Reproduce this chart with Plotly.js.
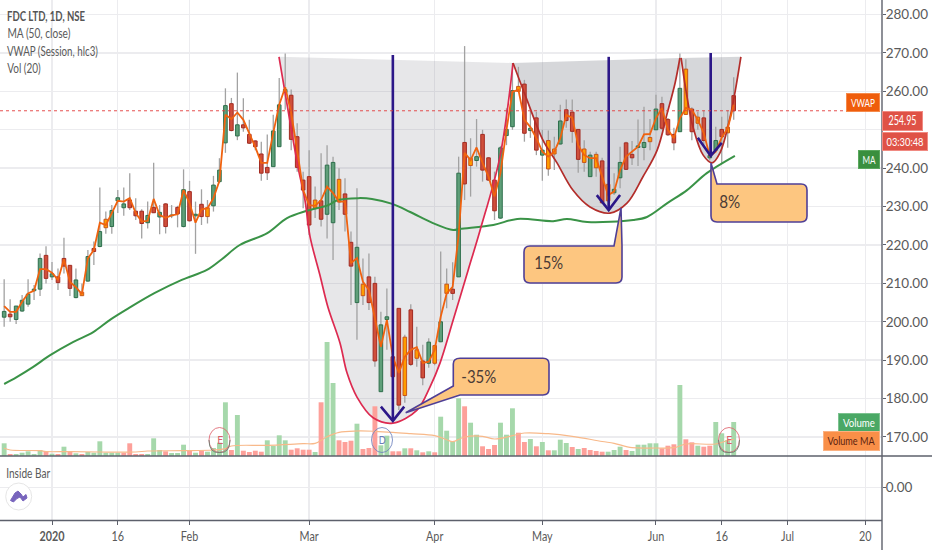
<!DOCTYPE html>
<html><head><meta charset="utf-8">
<script src="https://cdn.plot.ly/plotly-3.0.1.min.js"></script>
<style>html,body{margin:0;padding:0;background:#fff}#c{width:932px;height:550px}</style></head>
<body><div id="c"></div>
<script>
// ----- price candles (one entry per trading day) -----
const high = [211.1,205.9,204.1,207.0,211.1,209.6,217.8,219.7,215.6,213.9,221.9,214.8,213.9,210.0,218.7,220.9,235.0,228.7,230.4,234.3,
235.0,238.7,232.2,229.3,231.3,241.4,230.4,230.9,230.4,230.2,239.7,236.7,231.3,234.5,231.7,238.0,242.6,260.8,258.3,264.9,
258.2,252.6,247.3,246.9,248.8,253.9,263.5,269.9,260.5,251.7,239.1,244.7,235.2,243.9,246.0,243.0,240.0,237.4,223.5,234.8,
216.5,217.8,211.7,202.6,208.7,197.1,203.6,196.6,204.6,198.7,194.0,195.7,194.0,218.3,213.9,215.5,243.0,271.8,247.8,252.8,
250.0,242.9,239.1,245.8,255.6,267.4,266.4,263.0,255.7,254.7,250.0,249.8,248.2,256.5,257.9,257.9,250.2,247.3,244.3,244.3,
242.7,240.4,238.7,245.6,246.9,247.1,252.7,256.0,252.8,259.1,258.6,253.1,250.5,269.9,268.4,255.9,254.7,255.0,252.6,250.8,
253.4,255.0,263.7];
const low = [198.7,200.0,199.4,202.6,203.9,205.7,206.7,210.0,210.9,208.3,212.6,206.7,206.1,206.7,210.4,214.8,219.4,222.9,222.9,228.3,
227.6,229.1,226.5,221.7,224.3,228.3,222.8,223.0,227.0,224.6,224.6,226.1,217.7,225.2,225.6,228.7,236.1,244.0,249.6,247.3,
249.5,246.3,244.7,236.7,236.9,240.3,245.5,255.2,244.7,239.1,229.6,222.6,227.0,224.8,221.7,216.1,229.1,223.5,204.4,195.3,
204.4,203.1,188.3,181.7,192.7,180.9,177.0,178.9,188.5,188.3,183.5,188.0,188.7,194.7,203.5,205.7,211.7,231.7,232.6,240.4,
236.5,236.7,226.5,226.8,246.0,250.0,259.8,246.9,247.9,243.4,236.7,238.0,239.5,246.2,250.5,246.6,238.8,239.1,237.7,237.8,
230.7,229.9,233.0,234.8,239.5,240.8,240.6,242.1,244.7,250.0,250.0,248.4,244.7,249.4,253.9,247.3,250.0,246.0,242.1,244.5,
241.3,245.3,252.6];
const bodyHi = [202.7,202.0,204.1,205.6,207.2,208.5,216.5,217.3,212.5,211.7,216.5,214.7,210.9,207.7,217.0,219.1,223.5,226.7,229.0,232.3,
230.7,231.7,228.8,228.8,227.7,229.8,228.5,230.7,227.8,229.8,234.4,233.9,228.0,230.6,229.7,235.6,239.5,256.3,256.8,251.3,
251.3,248.8,247.1,243.7,240.2,249.7,256.5,260.5,259.0,248.2,236.9,237.8,231.7,231.5,240.8,241.5,237.1,233.3,220.7,219.4,
209.8,211.7,210.0,199.2,201.3,190.9,203.5,196.0,203.1,192.7,189.8,194.7,193.8,200.0,209.8,208.5,238.7,246.7,242.6,243.0,
248.8,242.7,236.9,245.3,250.1,260.2,261.3,261.9,250.4,253.1,244.7,247.2,245.0,252.3,255.2,254.6,250.1,245.0,243.4,243.6,
241.9,235.8,234.5,241.5,246.6,243.6,245.8,246.7,248.0,255.4,256.8,252.7,248.8,260.8,265.8,255.4,253.3,253.1,243.3,247.2,
250.1,250.7,258.9];
const bodyLo = [201.2,201.3,200.6,202.8,204.6,208.1,208.5,211.3,211.7,210.2,214.5,208.7,206.3,206.8,210.6,218.3,219.6,224.5,224.8,231.5,
229.7,229.7,227.6,225.6,225.8,228.4,227.3,224.8,227.6,228.1,224.8,226.3,227.6,227.4,227.4,230.2,236.5,246.6,249.8,248.4,
250.5,246.5,245.6,238.7,238.8,240.4,245.6,259.7,247.5,240.2,234.3,225.2,229.6,226.7,228.0,225.8,231.2,228.0,214.5,205.0,
206.8,205.0,189.8,181.8,200.6,185.7,178.3,180.8,188.9,190.5,185.4,189.2,189.2,194.8,207.4,207.4,211.7,235.9,240.7,242.0,
239.5,236.9,228.9,227.0,248.5,250.8,260.0,249.1,249.8,244.7,243.4,239.8,243.7,246.3,252.4,249.6,242.3,241.5,237.8,240.1,
231.0,231.5,233.6,237.5,239.7,242.7,245.4,245.4,246.9,250.0,250.4,248.7,246.6,249.5,254.0,249.5,251.7,247.2,242.7,244.7,
248.2,249.2,254.95];
const candleKind = ("grgggggrgr"+"rrgogrgogg"+"grrrgrgrgr"+"grgrogggrg"+"rrrrrgggrr"+"rrorggorrg"+"orrggrroro"+"rgogorgrog"+"rrrgggorgr"+"googrrrogo"+"roggrrggog"+"rrrgororgg"+"ror").split("");
const vwap = [204.1,202.6,202.6,205.2,207.4,208.1,213.7,213.7,212.8,210.9,216.3,210.4,209.0,207.2,216.5,218.7,225.8,225.2,228.3,231.5,
231.3,232.2,228.3,226.1,226.3,232.0,227.8,227.1,227.7,228.0,234.3,230.9,225.8,229.3,229.6,232.2,236.7,253.9,252.8,254.5,
252.6,249.2,245.5,241.4,241.4,249.2,256.5,261.1,254.4,244.7,234.3,230.4,230.2,231.7,235.2,233.5,231.3,231.3,215.3,216.6,
210.4,208.3,200.5,193.5,200.5,190.9,186.7,190.9,192.7,193.4,189.3,189.6,192.7,201.3,207.4,209.1,222.6,244.0,242.1,245.4,
241.4,237.8,232.6,238.8,250.0,259.9,260.4,252.6,250.7,247.8,244.3,243.0,244.3,247.8,253.9,253.1,246.0,243.4,242.6,242.6,
237.8,233.0,233.9,239.5,243.0,244.3,245.6,248.8,248.9,253.0,255.7,250.0,247.8,253.0,255.7,255.2,252.6,249.1,243.2,244.3,
248.0,250.4,256.5];
// ----- volume -----
const volume = [12.7,2,2,3.3,4.7,2,6,4.7,2.3,2,9.3,4.3,2.7,2,4,3.3,14.7,3.3,3.3,3.3,3.3,12.7,2,2,2,17.7,6,4.7,3,3,11.3,5.3,3.3,5.3,4.3,8,13.3,53.7,6,41,
5.3,4,5.3,4.3,15.7,10,20.7,15.7,6.3,7.7,6.3,6.3,4,53.7,114,73,15.7,14,15.3,32.3,7,8,49.7,10.7,20.3,4.7,4.7,7.7,7.7,5.7,3.7,4.7,3.7,39.3,25.3,14.7,57.7,49.7,33.3,21.3,
9.7,7,11,33.3,21.3,47.7,23.3,14,17,9.7,14,5.7,5.7,16.3,13,9,7,8,6,5,4.3,4.3,6,9.3,6,5,11.3,11.3,12.7,12.7,7.7,10.3,11.7,71,16.7,13.7,10.3,9.3,10.3,34,22.7,16,34];
const volumeKind = ("grgggggrgr"+"grgrgggggg"+"rrrrgggrgg"+"grgrggggrg"+"rrrrggggrr"+"rrgrggrrrg"+"rrrggrrgrg"+"rgrggggrgg"+"rrrgggrrgr"+"grgggrgrrr"+"rgggrggggg"+"rrrgrrgrrg"+"ggg").split("");
const volMaDays = [0,1,6,7,11,16,22,24,30,35,37,38,44,50,52,54,56,59,62,65,68,72,74,75,77,80,82,85,87,91,95,100,102,105,109,112,114,119,121,122];
const volMa = [7.7,6,5.3,4.4,4.4,4,4,5,5.3,6,7.3,10,10.7,12.3,12.7,19.3,23.7,25,24.7,23.7,22.3,20.3,16.3,14.3,19,19.7,17,20.3,23,22.3,19.7,14.5,12.7,8.3,8,8.3,12,12,15.5,16.7];
// ----- MA(50) -----
const maDays = [0,2.1,4.8,7.7,11.5,14.9,17.7,21.1,25.2,29.7,33.9,36.4,39.4,44,47.3,50.6,54.2,55.8,59.2,61.5,64.9,67.9,71.7,75.1,76.2,81.8,85.8,91.8,94.1,97.5,105.2,107.5,110.9,114.2,117.5,122.2];
const ma = [183.8,185.6,188.2,191.3,194.7,197.3,200.5,203.8,207.5,210.9,213.5,216.3,220.0,223.1,227.0,228.9,230.4,231.7,232.2,232.0,230.7,228.6,225.7,223.9,224.2,225.2,226.8,226.2,226.8,226.0,226.5,227.3,230.9,234.3,238.7,243.2];
// ----- cup drawings -----
const cup1X = [45.96,47.46,49.14,50.3,51.15,52.8,54.15,56.16,57.33,59.0,61.7,65.0,69.04,71.2,72.9,75.1,77.6,79.6,82.9,85.1];
const cup1Y = [269.0,255.2,240.3,231.7,222.2,212.2,203.8,194.5,186.7,180.4,175.0,173.6,177.0,183.0,189.3,200.5,213.5,223.9,242.9,267.4];
const cup2X = [85.1,87.43,90.1,92.45,95.1,97.97,101.3,104.15,106.8,109.2,110.9,112.2,113.0];
const cup2Y = [267.4,257.8,247.3,241.4,234.3,229.9,228.3,230.9,237.7,244.7,254.4,262.2,268.7];
const cup3X = [113.2,114.2,115.2,116.9,118.4,119.7,121.4,123.2];
const cup3Y = [268.7,258.5,250.7,243.4,241.4,244.0,253.3,269.0];
const arrowX = [65,65,null,63,65,66.9,null,101.1,101.1,null,99.1,101.1,103,null,118.15,118.15,null,116,118.15,120];
const arrowY = [269.5,174.2,null,177.9,174.2,177.9,null,269,229.1,null,233,229.1,233,null,270,243.2,null,247.9,243.2,246.6];
// ----- axes -----
const priceTicks = [170,180,190,200,210,220,230,240,250,260,270,280];
const coveredPriceTick = 250; // hidden behind the price tags in the picture
const dateTicks = [8,19,31,51,72,90,109,120,131,144];
const dateLabels = ["<b>2020</b>","16","Feb","Mar","Apr","May","Jun","16","Jul","20"];
const lastPrice = 254.95;

const FONT = 'Lato,"Noto Sans",sans-serif';
const W = 882, H = 520;
const days = high.map((_, i) => i);
const fx = x => x / W, fy = y => 1 - y / H;
const pt = (x, y) => fx(x) + " " + fy(y);

// ----- traces -----
const wickX = [], wickY = [];
days.forEach(i => { wickX.push(i, i, null); wickY.push(high[i], low[i], null); });
const bodyFill = {g:"#5f9f79", r:"#cf4f3b", o:"#ff9c00"};
const bodyLine = {g:"#2e6f4c", r:"#a32b22", o:"#c8551b"};
const cupFill = (x, y, fill) => ({type:"scatter", mode:"lines", x, y, yaxis:"y", xaxis:"x",
  fill:"toself", fillcolor:fill, line:{color:"rgba(0,0,0,0)", width:0, shape:"spline", smoothing:1}, hoverinfo:"skip"});
const cupLine = (x, y, color) => ({type:"scatter", mode:"lines", x, y, yaxis:"y4",
  line:{color, width:1.7, shape:"spline", smoothing:1}, hoverinfo:"skip"});

const traces = [
  cupFill(cup1X, cup1Y, "rgba(120,123,134,0.18)"),
  cupFill(cup2X, cup2Y, "rgba(120,123,134,0.30)"),
  cupFill(cup3X, cup3Y, "rgba(120,123,134,0.30)"),
  {type:"scatter", mode:"lines", x:wickX, y:wickY, yaxis:"y", line:{color:"#a2a2a2", width:1.3}, hoverinfo:"skip"},
  {type:"scatter", mode:"lines", x:[0], y:[0], yaxis:"y2", line:{color:"rgba(0,0,0,0)"}, hoverinfo:"skip"},
  {type:"bar", x:days, y:volume, yaxis:"y3", width:0.82,
    marker:{color:volumeKind.map(k => k === "g" ? "#a6d8ab" : "#fda09a"), line:{width:0}}, hoverinfo:"skip"},
  {type:"scatter", mode:"lines", x:volMaDays, y:volMa, yaxis:"y3", line:{color:"#f8b98a", width:1.2, shape:"spline"}, hoverinfo:"skip"},
  {type:"bar", x:days, y:bodyHi.map((v, i) => v - bodyLo[i]), base:bodyLo, yaxis:"y4", width:0.6,
    marker:{color:candleKind.map(k => bodyFill[k]), line:{color:candleKind.map(k => bodyLine[k]), width:1}}, hoverinfo:"skip"},
  {type:"scatter", mode:"lines", x:maDays, y:ma, yaxis:"y4", line:{color:"#3a9347", width:2, shape:"spline", smoothing:1}, hoverinfo:"skip"},
  cupLine(cup1X, cup1Y, "#dd2a50"),
  cupLine(cup2X, cup2Y, "#b32d2a"),
  cupLine(cup3X, cup3Y, "#b32d2a"),
  {type:"scatter", mode:"lines", x:days, y:vwap, yaxis:"y4", line:{color:"#f0620f", width:1.8}, hoverinfo:"skip"},
  {type:"scatter", mode:"lines", x:arrowX, y:arrowY, yaxis:"y4", line:{color:"#2c1788", width:2.6}, hoverinfo:"skip"}
];

// ----- decorations -----
const calloutStyle = {type:"path", xref:"paper", yref:"paper", fillcolor:"#fdc680", line:{color:"#4f3f96", width:1.6}, layer:"above"};
const callout = d => Object.assign({}, calloutStyle, {path:d});
const c1 = "M " + pt(460,358.3) + " L " + pt(543,358.3) + " Q " + pt(549,358.3) + " " + pt(549,364) + " L " + pt(549,389) +
  " Q " + pt(549,395) + " " + pt(543,395) + " L " + pt(460,395) + " L " + pt(405.7,412.7) + " L " + pt(453.3,386) + " L " + pt(453.3,364) +
  " Q " + pt(453.3,358.3) + " " + pt(460,358.3) + " Z";
const c2 = "M " + pt(530,246) + " L " + pt(614,246) + " L " + pt(621,208) + " L " + pt(622,246) + " L " + pt(622,277) +
  " Q " + pt(622,283) + " " + pt(616,283) + " L " + pt(530,283) + " Q " + pt(524,283) + " " + pt(524,277) + " L " + pt(524,252) +
  " Q " + pt(524,246) + " " + pt(530,246) + " Z";
const c3 = "M " + pt(711,163) + " L " + pt(717,184) + " L " + pt(801,184) + " Q " + pt(807,184) + " " + pt(807,190) + " L " + pt(807,216) +
  " Q " + pt(807,222) + " " + pt(801,222) + " L " + pt(717,222) + " Q " + pt(711,222) + " " + pt(711,216) + " Z";
const circle = (cx, cy, r, color) => ({type:"circle", xref:"paper", yref:"paper", x0:fx(cx-r), x1:fx(cx+r), y0:fy(cy+r+2), y1:fy(cy-r-2),
  line:{color, width:1}, fillcolor:"rgba(0,0,0,0)", layer:"above"});
const lowerArc = (cx, cy, r, color) => ({type:"path", xref:"paper", yref:"paper",
  path:"M " + pt(cx-r,cy) + " Q " + pt(cx-r,cy+r+3) + " " + pt(cx,cy+r+2) + " Q " + pt(cx+r,cy+r+3) + " " + pt(cx+r,cy),
  line:{color, width:1}, fillcolor:"rgba(0,0,0,0)", layer:"above"});
const icon = "M " + pt(10.5,500.5) + " L " + pt(15,493) + " L " + pt(18,491) + " L " + pt(21,494) + " L " + pt(23,497) + " L " + pt(26,494.5) +
  " L " + pt(27,498) + " L " + pt(23,501) + " L " + pt(20,497) + " L " + pt(17,498.5) + " L " + pt(13.5,502) + " Z";

const shapes = [
  {type:"line", xref:"paper", yref:"y", x0:0, x1:1, y0:lastPrice, y1:lastPrice, line:{color:"rgba(226,60,60,0.9)", width:1, dash:"dot"}, layer:"above"},
  {type:"line", xref:"paper", yref:"paper", x0:0, x1:932/W, y0:fy(456), y1:fy(456), line:{color:"#5d606b", width:1.4}, layer:"above"},
  {type:"line", xref:"paper", yref:"paper", x0:0, x1:1, y0:fy(520.5), y1:fy(520.5), line:{color:"#5d606b", width:1.4}, layer:"above"},
  {type:"line", xref:"paper", yref:"paper", x0:1, x1:1, y0:fy(0), y1:fy(550), line:{color:"#5d606b", width:1.4}, layer:"above"},
  callout(c1), callout(c2), callout(c3),
  circle(219.5,440,10.5,"rgba(222,100,110,0.85)"),
  lowerArc(219.5,440,10.5,"rgba(110,125,115,0.9)"),
  circle(382,440,10.5,"rgba(110,130,190,0.85)"),
  circle(729,440,10.5,"rgba(222,100,110,0.85)"),
  lowerArc(729,440,10.5,"rgba(110,125,115,0.9)"),
  {type:"circle", xref:"paper", yref:"paper", x0:fx(5.7), x1:fx(31.7), y0:fy(510), y1:fy(483), line:{color:"#e6e6e6", width:1}, fillcolor:"#fff", layer:"above"},
  {type:"path", xref:"paper", yref:"paper", path:icon, fillcolor:"#7865bd", line:{color:"#7865bd", width:1}, layer:"above"}
];

// cx = centre of the text, w = its width in the picture (glyphs are narrowed to that width after drawing)
const squeeze = {};
const lab = (text, cx, y, w, size, color, weight) => { squeeze[text] = w; return {text, x:fx(cx), y:fy(y), xref:"paper", yref:"paper", showarrow:false,
  xanchor:"center", yanchor:"middle", font:{family:FONT, size:size||12.5, color:color||"#5a5a5a", weight:weight||400}}; };
const tag = (text, x0, x1, y0, y1, w, bg, color, border, size) => { squeeze[text] = w; return {text, xref:"paper", yref:"paper", showarrow:false,
  x:fx((x0+x1)/2), y:fy((y0+y1)/2), xanchor:"center", yanchor:"middle", width:x1-x0-2, height:y1-y0-2, align:"center", valign:"middle",
  bgcolor:bg, bordercolor:border, borderwidth:1, borderpad:0, font:{family:FONT, size:size||12.5, color}}; };

const annotations = [
  lab("FDC LTD, 1D, NSE", 46, 17, 78, 12.5, "#555", 700),
  lab("MA (50, close)", 38.5, 34, 63),
  lab("VWAP (Session, hlc3)", 52.5, 52, 91),
  lab("Vol (20)", 23.5, 69, 33.5),
  lab("Inside Bar", 29, 473, 44),
  lab("-35%", 479, 376, 35, 17, "#4b3b36"),
  lab("15%", 548.5, 262, 29, 17, "#4b3b36"),
  lab("8%", 729.5, 202, 21, 17, "#4b3b36"),
  lab("E", 219.5, 439, 6, 11, "#d8606a"),
  lab("D", 382, 439, 7, 11, "#6b7fb8"),
  tag("VWAP", 846, 880, 93, 112, 24, "#ef5d0c", "#fff", "#f58a4b", 11.5),
  tag("254.95", 882, 923, 111.5, 131, 28, "#df5246", "#fff", "#f08a82", 12.5),
  tag("03:30:48", 882, 928, 132, 151, 37, "#df5246", "#fff", "#f08a82", 11),
  tag("MA", 858, 880, 150, 169, 13, "#398f3e", "#fff", "#5aa85e", 11.5),
  tag("Volume", 838, 880, 413, 432, 32, "#4aa865", "#fff", "#7cc28f", 11),
  tag("Volume MA", 823, 880, 431.5, 451, 47, "#f98f48", "#5b1f10", "#fbb181", 10.5)
];
annotations.push(Object.assign({}, annotations[8], {x:fx(729)}));

const axisFont = {family:FONT, size:13.5, color:"#5a5a5a"};
const hidden = {visible:false, overlaying:"y", side:"right", domain:[1-456/H, 1], fixedrange:true, showgrid:false};
const layout = {
  width:932, height:550, margin:{l:0, r:50, t:0, b:30, pad:0},
  paper_bgcolor:"#fff", plot_bgcolor:"#fff", showlegend:false, barmode:"overlay", hovermode:false,
  font:{family:FONT, size:12.5, color:"#5a5a5a"},
  xaxis:{range:[-0.696,146.8], anchor:"y2", tickmode:"array", tickvals:dateTicks, ticktext:dateLabels, ticks:"outside", ticklen:4, tickcolor:"#5d606b",
    showgrid:true, gridcolor:"#ececef", gridwidth:1.4, zeroline:false, showline:false, tickfont:axisFont, fixedrange:true},
  yaxis:{domain:[1-456/H,1], range:[165.05,283.8], side:"right", anchor:"x", tickmode:"array", tickvals:priceTicks,
    ticktext:priceTicks.map(v => v === coveredPriceTick ? "" : v.toFixed(2)), ticklabelstandoff:-3,
    ticks:"outside", ticklen:3, tickcolor:"#5d606b", showgrid:true, gridcolor:"#ececef", gridwidth:1.4, zeroline:false, showline:false,
    tickfont:axisFont, fixedrange:true},
  yaxis2:{domain:[0,1-456/H], range:[-1.02,0.98], side:"right", anchor:"x", tickmode:"array", tickvals:[0], tickformat:".2f", ticklabelstandoff:-3,
    ticks:"outside", ticklen:3, tickcolor:"#5d606b", showgrid:true, gridcolor:"#ececef", gridwidth:1.4, zeroline:false, showline:false,
    tickfont:axisFont, fixedrange:true},
  yaxis3:Object.assign({}, hidden, {range:[0,456]}),
  yaxis4:Object.assign({}, hidden, {range:[165.05,283.8]}),
  shapes, annotations
};
Plotly.newPlot("c", traces, layout, {displayModeBar:false, staticPlot:true}).then(gd => {
  gd.querySelectorAll(".annotation-text").forEach(t => {
    const w = squeeze[t.textContent];
    if (w) { t.setAttribute("textLength", w); t.setAttribute("lengthAdjust", "spacingAndGlyphs"); }
  });
  gd.querySelectorAll(".xtick text").forEach(t => {
    const el = t.querySelector("tspan") || t;
    const w = t.getComputedTextLength();
    el.setAttribute("textLength", w * 0.8); el.setAttribute("lengthAdjust", "spacingAndGlyphs");
  });
});
</script></body></html>
